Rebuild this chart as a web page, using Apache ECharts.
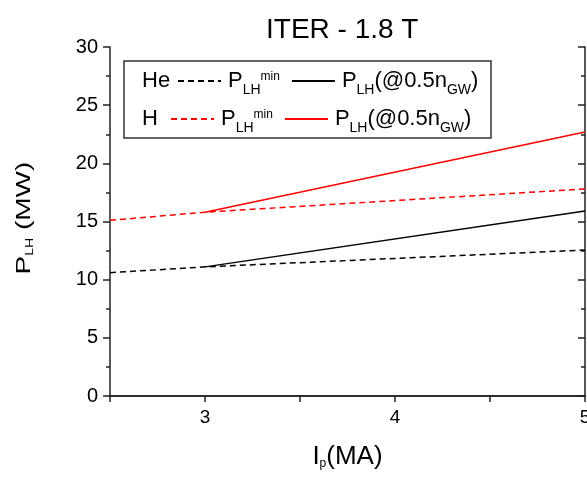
<!DOCTYPE html>
<html>
<head>
<meta charset="utf-8">
<script src="https://cdn.jsdelivr.net/npm/echarts@6/dist/echarts.min.js"></script>
<style>
html, body { margin: 0; padding: 0; background: #fff; }
#main { width: 587px; height: 477px; }
</style>
</head>
<body>
<div id="main"></div>
<script>
// plasma current (MA) and threshold power (MW)
var ipMin = [2.5, 3, 5];
var heMin = [10.6, 11.1, 12.55];
var hMin = [15.1, 15.8, 17.8];
var ipGw = [3, 5];
var heGw = [11.1, 15.9];
var hGw = [15.8, 22.7];
var xTicks = [3, 4, 5];

var FONT = 'Liberation Sans, Arial, sans-serif';

function pairs(xs, ys) {
	return xs.map(function (x, i) { return [x, ys[i]]; });
}

var legendRich = {
	sub: { fontSize: 14, lineHeight: 12, verticalAlign: 'bottom', fontFamily: FONT, color: '#000' },
	sup: { fontSize: 12, lineHeight: 12, verticalAlign: 'top', padding: [6, 0, 0, 0], fontFamily: FONT, color: '#000' }
};

function legendFmt(name) {
	if (name.indexOf('min') >= 0) return 'P{sub|LH}{sup|min}';
	return 'P{sub|LH}(@0.5n{sub|GW})';
}

var legendBase = {
	padding: 0,
	itemWidth: 43,
	itemHeight: 14,
	itemGap: 11,
	formatter: legendFmt,
	itemStyle: { opacity: 0 },
	textStyle: { fontFamily: FONT, fontSize: 22, lineHeight: 32, color: '#000', padding: [0, 0, 0, 2], rich: legendRich }
};

var e = document.getElementById('main');
var myChart = echarts.init(e);

var axisLine = { show: true, lineStyle: { color: '#222', width: 1.5 } };

myChart.setOption({
	animation: false,
	title: {
		text: 'ITER - 1.8 T',
		left: 261,
		top: 11,
		textStyle: { fontFamily: FONT, fontSize: 28, fontWeight: 'normal', color: '#000' }
	},
	grid: { left: 110, right: 2, top: 47, bottom: 81, outerBoundsMode: 'none' },
	legend: [
		Object.assign({ data: ['He min', 'He gw'], left: 177, top: 65 }, legendBase),
		Object.assign({ data: ['H min', 'H gw'], left: 170, top: 103 }, legendBase)
	],
	graphic: [{
		type: 'rect',
		shape: { x: 124, y: 61, width: 367, height: 77 },
		style: { fill: 'none', stroke: '#333', lineWidth: 1.5 },
		z: 0
	}, {
		type: 'text',
		left: 142,
		top: 70,
		style: { text: 'He', fontFamily: FONT, fontSize: 22, fill: '#000' }
	}, {
		type: 'text',
		left: 142,
		top: 108,
		style: { text: 'H', fontFamily: FONT, fontSize: 22, fill: '#000' }
	}, {
		// y axis title, drawn narrow like the original
		type: 'text',
		x: 24,
		y: 218,
		rotation: Math.PI / 2,
		scaleY: 0.72,
		style: {
			text: 'P{sub|LH} (MW)',
			align: 'center',
			verticalAlign: 'middle',
			fontFamily: FONT,
			fontSize: 28,
			lineHeight: 30,
			fill: '#000',
			rich: { sub: { fontSize: 14, lineHeight: 12, verticalAlign: 'bottom', fontFamily: FONT, fill: '#000' } }
		}
	}],
	xAxis: [{
		type: 'value',
		position: 'bottom',
		min: 2.5,
		max: 5,
		interval: 0.5,
		name: 'I{sub|p}(MA)',
		nameLocation: 'middle',
		nameGap: 48,
		nameTextStyle: {
			fontFamily: FONT, fontSize: 26, color: '#000',
			rich: { sub: { fontSize: 12, verticalAlign: 'bottom', lineHeight: 10, fontFamily: FONT, color: '#000' } }
		},
		axisLine: axisLine,
		axisTick: { show: true, inside: false, length: 6, lineStyle: { color: '#222', width: 1.5 } },
		axisLabel: {
			fontFamily: FONT, fontSize: 19, color: '#000', margin: 12,
			customValues: xTicks
		},
		splitLine: { show: false }
	}, {
		type: 'value',
		position: 'top',
		min: 2.5,
		max: 5,
		interval: 0.5,
		axisLine: axisLine,
		axisTick: { show: true, inside: true, length: 6, lineStyle: { color: '#222', width: 1.5 } },
		axisLabel: { show: false },
		splitLine: { show: false }
	}],
	yAxis: [{
		type: 'value',
		position: 'left',
		min: 0,
		max: 30,
		interval: 5,
		axisLine: axisLine,
		axisTick: { show: true, inside: false, length: 7, lineStyle: { color: '#222', width: 1.5 } },
		minorTick: { show: true, splitNumber: 2, length: 4, lineStyle: { color: '#222', width: 1.5 } },
		axisLabel: { fontFamily: FONT, fontSize: 20, color: '#000', margin: 12 },
		splitLine: { show: false }
	}, {
		type: 'value',
		position: 'right',
		min: 0,
		max: 30,
		interval: 5,
		axisLine: axisLine,
		axisTick: { show: true, inside: true, length: 7, lineStyle: { color: '#222', width: 1.5 } },
		minorTick: { show: true, splitNumber: 2, length: 4, lineStyle: { color: '#222', width: 1.5 } },
		axisLabel: { show: false },
		splitLine: { show: false }
	}],
	series: [{
		name: 'He min',
		type: 'line',
		symbol: 'none',
		data: pairs(ipMin, heMin),
		lineStyle: { color: '#000', width: 1.5, type: [6, 4] },
		itemStyle: { color: '#000' }
	}, {
		name: 'He gw',
		type: 'line',
		symbol: 'none',
		data: pairs(ipGw, heGw),
		lineStyle: { color: '#000', width: 1.5 },
		itemStyle: { color: '#000' }
	}, {
		name: 'H min',
		type: 'line',
		symbol: 'none',
		data: pairs(ipMin, hMin),
		lineStyle: { color: '#ff0000', width: 1.5, type: [6, 4] },
		itemStyle: { color: '#ff0000' }
	}, {
		name: 'H gw',
		type: 'line',
		symbol: 'none',
		data: pairs(ipGw, hGw),
		lineStyle: { color: '#ff0000', width: 1.5 },
		itemStyle: { color: '#ff0000' }
	}]
});
</script>
</body>
</html>
